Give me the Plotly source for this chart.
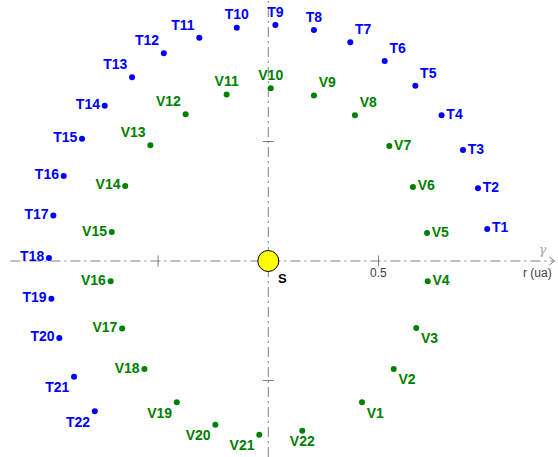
import plotly.graph_objects as go

# Earth positions T1..T22 (ua)
earth_labels = [f"T{i}" for i in range(1, 23)]
earth_x = [0.993, 0.951, 0.883, 0.786, 0.667, 0.528, 0.372, 0.207, 0.032, -0.143, -0.313,
           -0.474, -0.618, -0.742, -0.845, -0.928, -0.975, -0.995, -0.984, -0.948, -0.881, -0.787]
earth_y = [0.134, 0.304, 0.464, 0.610, 0.733, 0.837, 0.915, 0.967, 0.987, 0.976, 0.934,
           0.869, 0.769, 0.650, 0.512, 0.356, 0.190, 0.013, -0.158, -0.322, -0.484, -0.629]

# Venus positions V1..V22 (ua)
venus_labels = [f"V{i}" for i in range(1, 23)]
venus_x = [0.425, 0.569, 0.671, 0.723, 0.720, 0.656, 0.549, 0.393, 0.207, 0.011, -0.189,
           -0.375, -0.535, -0.649, -0.710, -0.715, -0.663, -0.562, -0.415, -0.240, -0.041, 0.154]
venus_y = [-0.591, -0.452, -0.280, -0.085, 0.117, 0.310, 0.481, 0.610, 0.692, 0.723, 0.697,
           0.614, 0.484, 0.314, 0.121, -0.085, -0.282, -0.452, -0.591, -0.685, -0.727, -0.710]

earth_pos = (["middle right"] * 4 + ["top right"] * 3 + ["top center"] * 3
             + ["top left"] * 3 + ["middle left"] * 7 + ["bottom left"] * 2)
venus_pos = (["bottom right"] * 3 + ["middle right"] * 4 + ["top right"] * 2
             + ["top center"] * 2 + ["top left"] * 2 + ["middle left"] * 5
             + ["bottom left"] * 3 + ["bottom center"])

ticks = [-0.5, 0.5]
x_range = [-1.217, 1.314]
y_range = [-0.820, 1.092]
arrow_tip = 1.298

AXIS_GREY = "#808080"
DASH = "10px,4px,2px,4px"
label_font = dict(family="Liberation Sans, Arial", size=14)

fig = go.Figure()

# dash-dot axes, kept under the markers
fig.add_shape(type="line", x0=-1.17, x1=arrow_tip, y0=0, y1=0, layer="below",
              line=dict(color=AXIS_GREY, width=1, dash=DASH))
fig.add_shape(type="line", x0=0, x1=0, y0=y_range[0], y1=y_range[1], layer="below",
              line=dict(color=AXIS_GREY, width=1, dash=DASH))
# open arrow head at the end of the r axis
for dy in (-4, 4):
    fig.add_shape(type="line", xsizemode="pixel", ysizemode="pixel",
                  xanchor=arrow_tip, yanchor=0, x0=-5, x1=0, y0=dy, y1=0,
                  layer="below", line=dict(color=AXIS_GREY, width=1))

# tick marks
fig.add_trace(go.Scatter(x=ticks, y=[0, 0], mode="markers", hoverinfo="skip",
                         marker=dict(symbol="line-ns", size=8,
                                     line=dict(color=AXIS_GREY, width=1))))
fig.add_trace(go.Scatter(x=[0, 0], y=ticks, mode="markers", hoverinfo="skip",
                         marker=dict(symbol="line-ew", size=8,
                                     line=dict(color=AXIS_GREY, width=1))))

fig.add_trace(go.Scatter(
    x=earth_x, y=earth_y, mode="markers+text", text=earth_labels,
    textposition=earth_pos,
    textfont=dict(color="#0000ff", weight="bold", **label_font),
    marker=dict(color="#0000ff", size=6)
))
fig.add_trace(go.Scatter(
    x=venus_x, y=venus_y, mode="markers+text", text=venus_labels,
    textposition=venus_pos,
    textfont=dict(color="#008000", weight="bold", **label_font),
    marker=dict(color="#008000", size=6)
))

# Sun
fig.add_trace(go.Scatter(
    x=[0], y=[0], mode="markers",
    marker=dict(color="#ffff00", size=21, line=dict(color="#000000", width=1))
))

fig.add_annotation(x=0, y=0, text="<b>S</b>", showarrow=False, xanchor="left", yanchor="top",
                   xshift=8, yshift=-8, font=dict(color="#000000", family="Liberation Sans, Arial", size=13))
fig.add_annotation(x=0.5, y=0, text="0.5", showarrow=False, yanchor="top", yshift=-3,
                   font=dict(color="#404040", family="Liberation Sans, Arial", size=12))
fig.add_annotation(x=arrow_tip, y=0, text="r (ua)", showarrow=False, xanchor="right",
                   yanchor="top", yshift=-3,
                   font=dict(color="#404040", family="Liberation Sans, Arial", size=12))
fig.add_annotation(x=1.245, y=0, text="<i>γ</i>", showarrow=False, yanchor="bottom",
                   yshift=2, font=dict(color="#a0a0a0", family="DejaVu Serif", size=12))

fig.update_layout(
    width=558, height=457,
    margin=dict(l=0, r=0, t=0, b=0),
    showlegend=False,
    plot_bgcolor="white", paper_bgcolor="white",
    xaxis=dict(range=x_range, visible=False, fixedrange=True),
    yaxis=dict(range=y_range, visible=False, fixedrange=True),
)

# drop the default page margin so the figure fills the window
fig.write_html("out.html", config={"displayModeBar": False},
               post_script="document.body.style.margin='0';document.body.style.overflow='hidden';")
